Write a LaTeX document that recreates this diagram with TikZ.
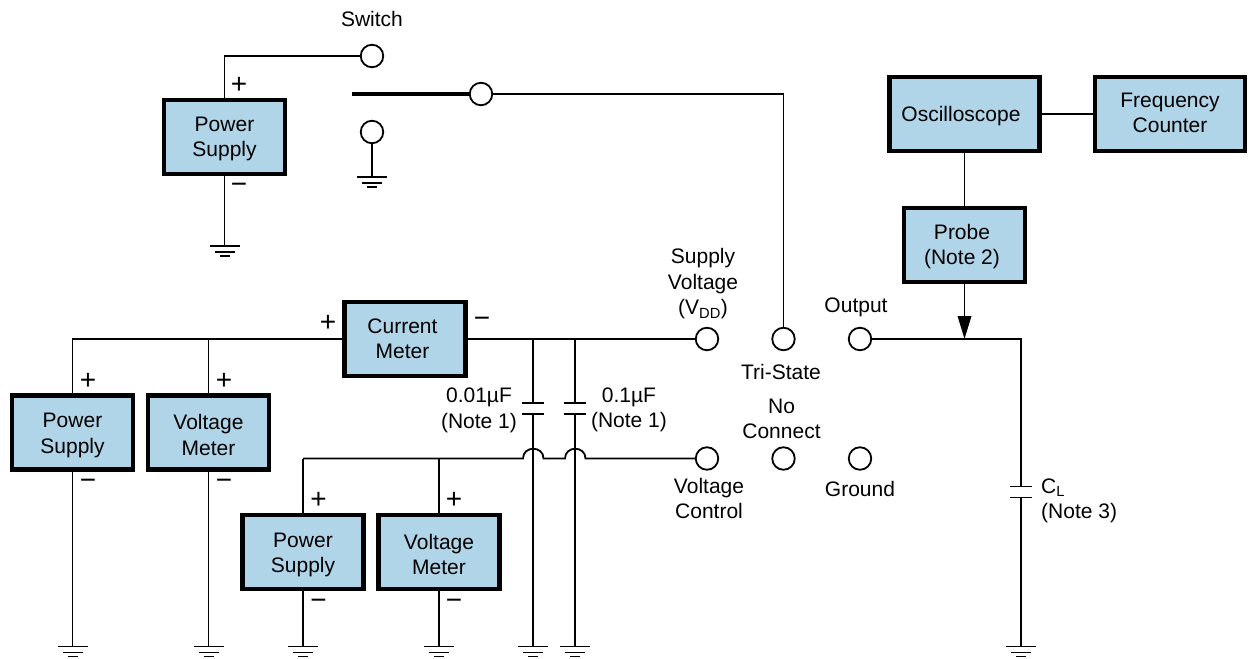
\documentclass[tikz,border=0pt]{standalone}
\usepackage{fontspec}
\setmainfont{Liberation Sans}
\usetikzlibrary{arrows.meta}
\definecolor{boxblue}{HTML}{B0D5E8}
\tikzset{
  wire/.style={line width=1.8pt},
  devbox/.style={draw=black,fill=boxblue,line width=4.2pt,minimum width=121pt,minimum height=74pt,inner sep=0pt,align=center,font=\lbl},
  widebox/.style={devbox,minimum width=150pt},
  term/.style={circle,draw=black,fill=white,line width=1.8pt,minimum size=22.5pt,inner sep=0pt},
  lab/.style={inner sep=0pt,align=center,font=\lbl},
  sign/.style={inner sep=0pt,font=\fontsize{28}{28}\selectfont},
  gnd/.pic={
    \draw[wire] (-15,0) -- (15,0);
    \draw[wire] (-10,6) -- (10,6);
    \draw[wire] (-5,10) -- (5,10);
  },
  cap/.pic={
    \fill[white] (-11,-5.5) rectangle (11,5.5);
    \draw[wire] (-11,-5.5) -- (11,-5.5);
    \draw[wire] (-11,5.5) -- (11,5.5);
  }
}
\newcommand{\lbl}{\fontsize{21}{25.5}\selectfont}
\newcommand{\ta}{\rule{0pt}{23.5pt}}
\newcommand{\tb}{\rule{0pt}{27.5pt}}
\newcommand{\tc}{\rule{0pt}{21.5pt}}
\newcommand{\rs}{\hspace*{5pt}}
\begin{document}
\begin{tikzpicture}[x=1pt,y=-1pt]
\useasboundingbox (0,0) rectangle (1249,658);
% boxes
\node[devbox] (psa) at (224.5,137) {\tc Power\\Supply\strut};
\node[devbox] (cm) at (405,339) {\tc Current\rs\\Meter\rs\strut};
\node[devbox] (psb) at (72.5,432.5) {\ta Power\\Supply\strut};
\node[devbox] (vmb) at (208.5,432.5) {\tb Voltage\\Meter\strut};
\node[devbox] (psc) at (303,552) {\ta Power\\Supply\strut};
\node[devbox] (vmc) at (439,552) {\tb Voltage\\Meter\strut};
\node[widebox] (osc) at (964.5,114) {\ta Oscilloscope\hspace*{7pt}\strut};
\node[widebox] (fc) at (1170,114) {\rule{0pt}{20pt}Frequency\\Counter\strut};
\node[devbox] (probe) at (964.5,245) {\tc Probe\rs\\(Note 2)\rs\strut};
% terminals
\node[term] (swa) at (372,56) {};
\node[term] (swc) at (481,94) {};
\node[term] (swg) at (372,132) {};
\node[term] (vdd) at (707,339) {};
\node[term] (tri) at (783.5,339) {};
\node[term] (out) at (860,339) {};
\node[term] (vc) at (707,458.5) {};
\node[term] (nc) at (783.5,458.5) {};
\node[term] (gr) at (860,458.5) {};
% coordinates
\coordinate (arm) at (352,94);
\coordinate (g1) at (224.5,246);
\coordinate (g2) at (372,177);
\coordinate (g3) at (72.5,646.5);
\coordinate (g4) at (208.5,646.5);
\coordinate (g5) at (303,646.5);
\coordinate (g6) at (439,646.5);
\coordinate (g7) at (533,646.5);
\coordinate (g8) at (575,646.5);
\coordinate (g9) at (1021,646.5);
\coordinate (c1t) at (533,339);
\coordinate (c2t) at (575,339);
\coordinate (c3t) at (1021,339);
\coordinate (tap) at (964.5,339);
\coordinate (vbl) at (303,458.5);
% wires
\draw[wire] (psa.north) |- (swa.west);
\draw[wire] (psa.south) -- (g1);
\draw[wire] (swg.south) -- (g2);
\draw[line width=4pt] (arm) -- (swc.west);
\draw[wire] (swc.east) -| (tri.north);
\draw[wire] (psb.north) |- (cm.west);
\draw[wire] (vmb.north) -- (vmb.north |- cm.west);
\draw[wire] (cm.east) -- (vdd.west);
\draw[wire] (psb.south) -- (g3);
\draw[wire] (vmb.south) -- (g4);
\draw[wire] (psc.north) -- (vbl);
\draw[wire] (vmc.north) -- (vmc.north |- vbl);
\draw[wire] (psc.south) -- (g5);
\draw[wire] (vmc.south) -- (g6);
\draw[wire] (c1t) -- (g7);
\draw[wire] (c2t) -- (g8);
\draw[wire] (vbl) -- (523,458.5) .. controls (523,445.5) and (543.5,445.5) .. (543.5,458.5) -- (565,458.5) .. controls (565,445.5) and (585.5,445.5) .. (585.5,458.5) -- (vc.west);
\draw[wire] (out.east) -- (c3t) -- (g9);
\draw[wire] (osc.east) -- (fc.west);
\draw[wire] (osc.south) -- (probe.north);
\draw[wire,-{Triangle[length=23pt,width=13.5pt]}] (probe.south) -- (tap);
% caps
\pic at (533,408.5) {cap};
\pic at (575,408.5) {cap};
\pic at (1021,492) {cap};
% grounds
\foreach \g in {g1,g2,g3,g4,g5,g6,g7,g8,g9} \pic at (\g) {gnd};
% labels
\node[lab] at (372,18.5) {Switch};
\node[lab] at (703,284) {Supply\\Voltage\\(V\textsubscript{DD})};
\node[lab] at (781,372) {Tri-State};
\node[lab] at (856,307) {Output};
\node[lab] at (781.5,419) {No\\Connect};
\node[lab] at (860,489) {Ground};
\node[lab] at (709,498.5) {Voltage\\Control};
\node[lab] at (479,410.5) {0.01µF\\(Note 1)};
\node[lab] at (629,410) {0.1µF\\(Note 1)};
\node[lab,align=left,anchor=west] at (1041,501) {C\textsubscript{L}\\(Note 3)};
% signs
\node[sign] at (239,85) {+};
\node[sign] at (239,188) {−};
\node[sign] at (328,323) {+};
\node[sign] at (482,322) {−};
\node[sign] at (88,381) {+};
\node[sign] at (88,484) {−};
\node[sign] at (224,381) {+};
\node[sign] at (224,484) {−};
\node[sign] at (318.5,500) {+};
\node[sign] at (318.5,604) {−};
\node[sign] at (454,500) {+};
\node[sign] at (454,604) {−};
\end{tikzpicture}
\end{document}
